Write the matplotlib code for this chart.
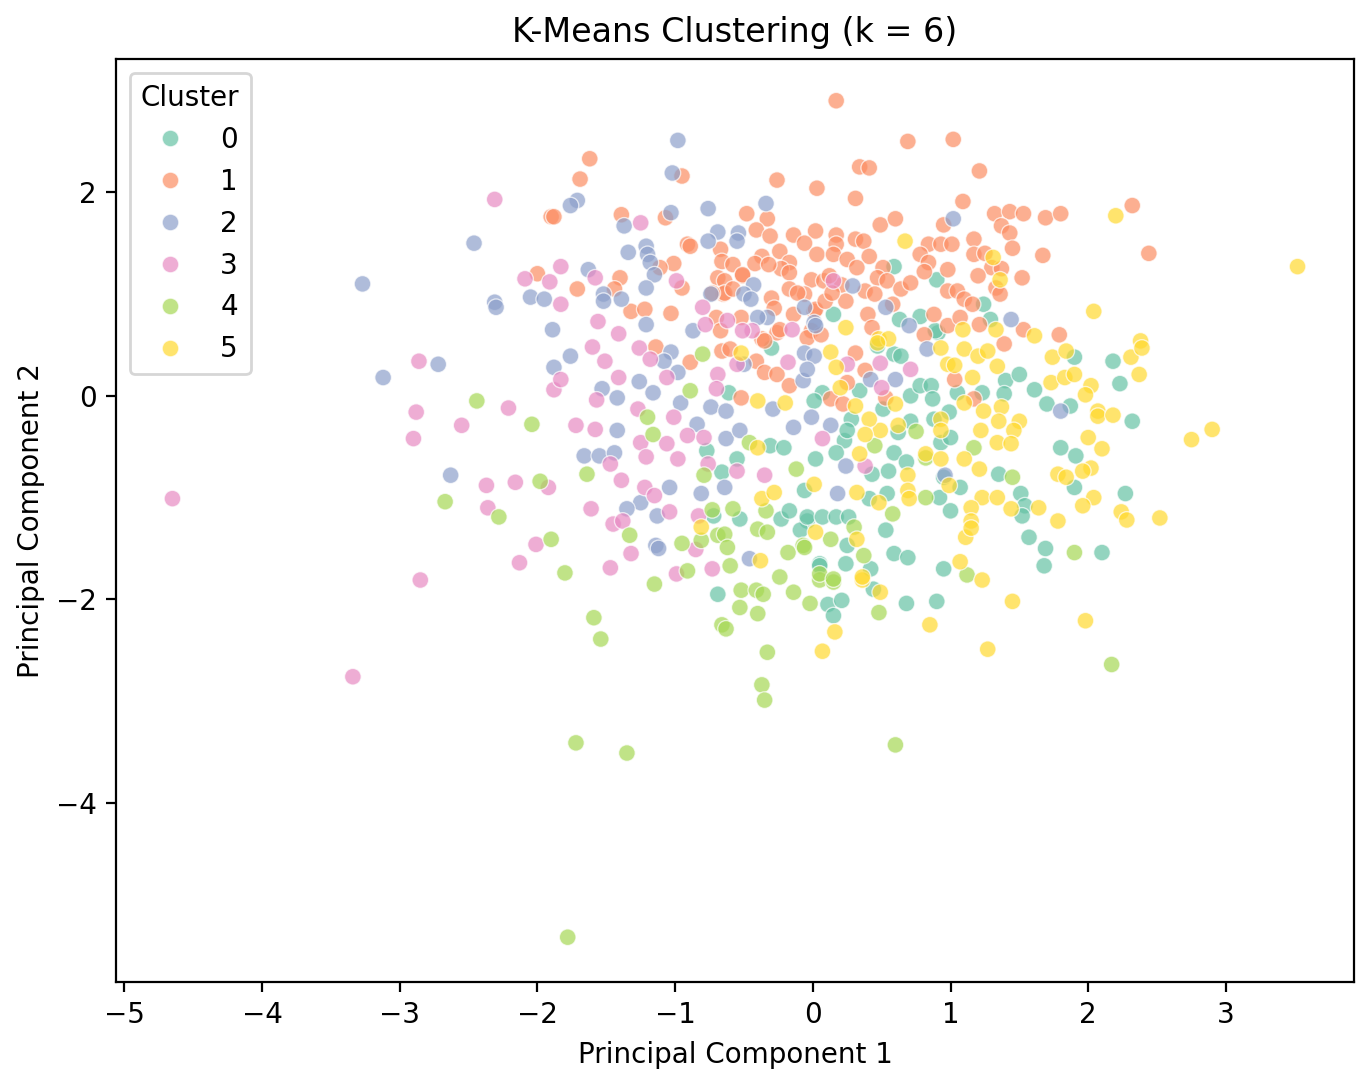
import matplotlib
matplotlib.use("Agg")
import matplotlib.pyplot as plt
import seaborn as sns
import pandas as pd

# ---- data (PC1, PC2) per cluster ----
c0 = [(0.90,1.14),(0.59,1.27),(1.24,0.90),(0.15,0.80),(0.63,0.75),(0.78,0.78),(0.91,0.62),(1.29,0.75),
      (-0.61,0.03),(-0.31,-0.49),(-0.21,-0.51),(-0.77,-0.54),(-0.66,-0.75),(-0.55,-0.62),(-0.06,-0.93),
      (-0.72,-1.18),(-0.53,-1.21),(-0.23,-1.21),(-0.17,-1.13),(-0.04,-1.23),(-0.09,-1.32),(0.05,-1.65),
      (-0.69,-1.95),(0.44,-1.90),(0.11,-2.05),(0.21,-2.01),(0.15,-2.16),(0.68,-2.04),(0.90,-2.02),
      (0.47,0.49),(0.59,0.41),(0.64,0.39),(0.34,0.05),(0.71,0.00),(0.78,0.10),(0.86,0.10),(0.87,-0.03),
      (1.05,0.03),(1.23,0.03),(1.40,0.15),(1.50,0.21),(1.39,0.02),(1.61,0.06),(1.70,-0.08),(1.87,-0.10),
      (1.80,-0.51),(1.91,-0.59),(0.88,-0.23),(0.99,-0.16),(0.93,-0.46),(1.00,-0.41),(0.71,-0.25),
      (0.62,-0.36),(0.51,-0.13),(0.28,-0.23),(0.23,-0.44),(0.17,-0.56),(0.02,-0.62),(0.59,-0.56),
      (0.68,-0.65),(0.43,-0.77),(0.55,-0.74),(0.95,-0.80),(1.07,-0.90),(1.35,-0.77),(1.90,-0.90),
      (0.41,-1.01),(0.54,-0.96),(0.92,-1.00),(1.51,-0.96),(1.54,-1.08),(1.52,-1.18),(1.00,-1.13),
      (-0.04,-1.19),(0.07,-1.19),(0.17,-1.19),(0.26,-1.19),(0.25,-1.47),(0.53,-1.32),(0.59,-1.55),
      (0.69,-1.59),(0.05,-1.67),(0.24,-1.65),(0.42,-1.70),(0.95,-1.70),(1.57,-1.39),(1.69,-1.50),
      (1.68,-1.67),(1.90,0.38),(2.18,0.34),(2.23,0.12),(2.32,-0.25),(2.27,-0.96),(2.10,-1.54),
      (-0.30,0.47),(0.89,0.64),(0.07,0.03),(0.01,-0.05),(0.25,-0.34)]

c1 = [(-1.90,1.76),(-2.00,1.20),
      (-1.62,2.33),(-0.95,2.16),(-1.69,2.13),(-0.26,2.12),(0.03,2.04),(-1.88,1.76),(-1.39,1.78),
      (-1.07,1.75),(-0.48,1.79),(-0.33,1.74),(-0.41,1.63),(-0.31,1.57),(-0.14,1.58),(0.02,1.62),
      (-0.06,1.50),(-0.91,1.49),(-0.89,1.47),(-1.01,1.30),(-1.11,1.26),(-0.67,1.44),(-0.66,1.32),
      (-0.58,1.29),(-0.69,1.16),(-0.64,1.13),(-0.51,1.18),(-0.37,1.37),(-0.42,1.30),(-0.24,1.42),
      (-0.17,1.31),(-0.23,1.25),(-0.01,1.14),(-1.40,1.16),(-1.44,1.05),(-1.71,1.05),(-0.95,1.06),
      (-1.32,0.83),(-1.22,0.85),(-1.03,0.81),(-0.65,1.00),(-0.30,0.96),(-0.28,0.86),(-0.70,0.77),
      (-0.52,0.77),(-0.14,0.80),
      (0.17,2.90),(0.69,2.50),(1.02,2.52),(0.34,2.25),(0.41,2.24),(1.21,2.21),(0.31,1.94),(1.09,1.91),
      (0.95,1.68),(1.32,1.79),(1.43,1.81),(1.53,1.79),(1.69,1.75),(1.80,1.79),(1.37,1.67),(1.43,1.60),
      (1.45,1.45),(1.67,1.38),(0.49,1.68),(0.60,1.74),(0.17,1.58),(0.17,1.49),(0.31,1.54),(0.37,1.52),
      (0.84,1.49),(0.93,1.49),(1.01,1.49),(1.17,1.54),(0.78,1.39),(0.84,1.31),(0.03,1.39),(0.15,1.39),
      (0.25,1.34),(0.41,1.37),(0.32,1.26),(1.17,1.39),(1.25,1.40),(1.30,1.26),(1.37,1.25),(1.52,1.16),
      (1.20,1.18),(1.33,1.06),(1.36,1.00),(0.98,1.24),(0.81,1.22),(0.51,1.26),(0.47,1.16),(0.08,1.13),
      (0.21,1.09),(0.38,1.03),(0.45,1.00),(0.54,1.13),(0.64,1.05),(0.71,1.11),(0.98,1.03),(1.05,1.03),
      (1.10,0.95),(1.16,0.90),(-0.06,1.00),(0.01,0.83),(0.24,0.93),(0.40,0.80),(0.43,0.67),(0.58,0.90),
      (0.88,0.80),(0.98,0.69),(1.07,0.77),(1.21,0.70),(1.53,0.65),(1.79,0.60),(-0.01,0.64),
      (2.32,1.87),(2.44,1.40),
      (-1.14,0.48),(-0.89,0.33),(-0.66,0.44),(-0.60,0.46),(-0.41,0.34),(-0.37,0.56),(-0.26,0.62),
      (-0.04,0.57),(-0.35,0.23),(-0.26,0.21),(-0.17,0.10),(-0.52,-0.02),
      (0.06,0.60),(0.31,0.42),(0.38,0.25),(0.25,0.13),(0.53,-0.02),(1.03,0.16),(1.17,-0.03),(1.39,0.51),
      (-0.51,1.19),(-0.32,1.29),(-0.17,1.21),(-0.64,1.01),(-0.73,1.01),(-0.58,1.05),(-0.17,1.05),
      (-0.11,1.01),(0.12,1.18),(0.02,0.85),(0.09,0.93),(0.14,1.01),(-0.67,0.64),(-0.24,0.65),(-0.35,0.54),
      (0.81,0.60),(0.13,-0.03),(0.22,-0.08)]

c2 = [(-2.46,1.50),(-3.27,1.10),(-2.31,0.92),(-2.30,0.87),(-2.05,0.97),(-1.95,0.95),(-1.89,0.65),
      (-1.88,0.28),(-2.72,0.31),(-3.12,0.18),(-2.63,-0.78),
      (-0.98,2.51),(-1.02,2.19),(-1.71,1.92),(-1.76,1.87),(-0.76,1.84),(-0.34,1.89),(-1.37,1.67),
      (-1.03,1.80),(-0.69,1.61),(-0.76,1.52),(-0.54,1.60),(-0.55,1.52),(-1.34,1.41),(-1.21,1.47),
      (-1.20,1.39),(-1.18,1.31),(-1.15,1.19),(-0.43,1.09),(-1.63,1.24),(-1.52,1.00),(-1.52,0.93),
      (-1.39,0.95),(-1.21,1.06),(-0.74,1.00),(-0.06,0.87),(-1.21,0.70),(-0.33,0.77),
      (1.02,1.74),(0.29,1.08),(0.01,0.72),(0.53,0.87),(0.70,0.69),(1.44,0.75),
      (-1.76,0.39),(-1.26,0.14),(-1.53,0.07),(-1.42,-0.02),(-1.03,0.43),(-1.08,0.34),(-0.50,0.31),
      (-0.06,0.42),(-0.07,0.15),(-0.98,0.23),(-1.16,0.03),(-0.96,-0.07),(-0.29,-0.13),(-0.74,-0.11),
      (-0.63,-0.15),(-0.84,-0.28),(-1.42,-0.34),(-0.63,-0.42),(-0.53,-0.34),(-0.14,-0.31),(-0.01,-0.21),
      (-1.66,-0.59),(-1.55,-0.59),(-1.44,-0.56),(-1.04,-0.90),(-1.25,-1.05),(-1.35,-1.11),(-1.13,-1.18),
      (-0.81,-0.96),(-0.64,-0.90),(-1.14,-1.47),(-1.12,-1.50),(-0.46,-1.60),
      (0.01,0.39),(-0.04,0.26),(0.60,0.16),(0.42,0.16),(1.80,-0.15),(0.13,-0.29),(0.24,-0.69),
      (0.96,-0.78),(0.18,-0.96),
      (-0.50,1.00),(-0.45,0.95),(-0.87,0.64),(-0.40,0.77),(0.02,0.69),(0.83,0.46)]

c3 = [(-2.31,1.93),(-2.09,1.15),(-1.91,1.12),(-1.88,0.06),(-2.86,0.34),(-2.88,-0.16),(-2.21,-0.12),
      (-2.55,-0.29),(-2.90,-0.42),(-2.37,-0.88),(-2.16,-0.85),(-1.92,-0.90),(-4.65,-1.01),(-2.36,-1.10),
      (-2.01,-1.46),(-2.13,-1.64),(-2.85,-1.81),(-3.34,-2.76),
      (-1.25,1.70),(-1.83,1.27),(-1.58,1.16),(-1.83,0.90),(-0.99,1.13),(-0.80,0.87),(-1.56,0.73),
      (0.15,1.13),
      (-1.41,0.61),(-1.60,0.48),(-1.26,0.47),(-1.51,0.34),(-1.83,0.16),(-1.41,0.18),(-1.57,-0.04),
      (-1.18,0.36),(-0.18,0.33),(-0.69,0.21),(-1.06,0.18),(-0.70,0.07),(-1.27,-0.13),(-1.01,-0.21),
      (-1.72,-0.29),(-1.58,-0.33),(-0.91,-0.39),(-0.79,-0.41),(-1.25,-0.46),(-1.06,-0.47),(-1.21,-0.60),
      (-0.98,-0.62),(-1.47,-0.67),(-1.39,-0.83),(-0.76,-0.67),(-0.55,-0.74),(-0.35,-0.78),(-1.22,-0.90),
      (-1.15,-0.98),(-1.61,-1.11),(-1.04,-1.14),(-1.45,-1.26),(-1.38,-1.23),(-0.83,-1.18),(-0.85,-1.51),
      (-1.32,-1.55),(-1.47,-1.69),(-0.99,-1.75),(-0.73,-1.70),
      (0.25,0.31),(0.49,0.32),(0.71,0.26),(0.50,0.08),(0.07,-0.42),(0.38,-0.69),
      (-0.78,0.70),(-0.62,0.74),(-0.44,0.64),(-0.51,0.64),(-0.15,0.65),(-0.55,0.31)]

c4 = [(-2.44,-0.05),(-2.04,-0.28),(-1.98,-0.84),(-2.67,-1.04),(-2.28,-1.19),(-1.90,-1.41),
      (-0.80,0.41),(-0.89,0.05),(-1.20,-0.21),(-1.16,-0.38),(-0.46,-0.46),(-1.64,-0.77),(-0.79,-0.78),
      (-0.12,-0.72),(-0.58,-1.11),(-0.73,-1.12),(-0.34,-1.13),(-1.33,-1.37),(-0.95,-1.45),(-0.81,-1.42),
      (-0.69,-1.37),(-0.64,-1.36),(-0.62,-1.49),(-0.40,-1.31),(-0.33,-1.34),(-0.18,-1.54),(-0.07,-1.47),
      (-1.80,-1.74),(-0.91,-1.72),(-0.60,-1.67),(-0.24,-1.78),(-1.15,-1.85),
      (-0.52,-1.91),(-0.41,-1.91),(-0.36,-1.95),(-0.14,-1.93),(0.05,-1.81),(0.15,-1.83),(-1.59,-2.18),
      (-1.54,-2.39),(-0.53,-2.08),(-0.40,-2.14),(-0.66,-2.25),(-0.63,-2.29),(-0.02,-2.04),(0.48,-2.13),
      (-0.33,-2.52),(-0.37,-2.84),(-0.35,-2.99),(-1.72,-3.41),(-1.35,-3.51),(0.60,-3.43),(-1.78,-5.32),
      (0.75,-0.35),(0.45,-0.49),(0.82,-0.61),(1.17,-0.51),(1.45,-0.80),(0.82,-1.00),(0.58,-1.16),
      (-0.06,-1.49),(0.13,-1.41),(0.30,-1.29),(0.37,-1.57),(0.05,-1.75),(0.15,-1.80),(1.12,-1.76),
      (1.90,-1.54),(2.17,-2.64)]

c5 = [(0.67,1.52),(1.31,1.36),(1.36,1.14),(0.24,0.67),(1.09,0.65),(1.33,0.65),(1.61,0.59),(0.48,0.56),
      (0.55,0.56),(2.20,1.77),(3.52,1.27),(2.04,0.83),(2.38,0.54),
      (-0.52,0.42),(-0.40,-0.05),(-0.20,-0.07),(-0.40,-0.51),(0.01,-0.87),(-0.37,-1.01),(-0.28,-0.95),
      (-0.81,-1.29),(0.02,-1.34),(-0.38,-1.62),
      (0.36,-1.81),(0.49,-1.93),(0.16,-2.32),(0.85,-2.25),(0.07,-2.51),
      (0.13,0.43),(0.17,0.28),(0.20,0.08),(0.98,0.31),(1.03,0.30),(1.16,0.18),(1.24,-0.15),(1.10,-0.07),
      (0.93,0.47),(1.10,0.46),(1.20,0.39),(1.27,0.44),(1.34,0.29),(1.74,0.38),(1.84,0.44),(1.73,0.13),
      (1.83,0.18),(1.90,0.21),(1.37,-0.11),(1.35,-0.25),(1.50,-0.25),(1.46,-0.34),(1.34,-0.46),
      (1.44,-0.47),(1.22,-0.34),(0.93,-0.23),(0.93,-0.34),(0.62,-0.29),(0.49,-0.34),(0.41,-0.23),
      (0.34,-0.57),(0.82,-0.57),(0.93,-0.62),(1.10,-0.62),(1.21,-0.72),(0.69,-0.78),(0.99,-0.88),
      (1.78,-0.77),(1.84,-0.80),(0.32,-0.95),(0.48,-1.05),(0.69,-0.93),(0.70,-1.01),(1.23,-1.00),
      (1.15,-1.10),(1.34,-1.00),(1.44,-1.11),(1.64,-1.10),(1.78,-1.23),(1.15,-1.23),(1.11,-1.39),
      (1.15,-1.30),(0.32,-1.41),(0.36,-1.78),(1.07,-1.63),(1.23,-1.81),
      (2.31,0.38),(2.39,0.47),(2.37,0.21),(2.02,0.10),(1.98,0.01),(2.07,-0.15),(2.07,-0.20),(2.18,-0.19),
      (2.90,-0.33),(2.75,-0.43),(2.00,-0.41),(2.10,-0.52),(2.02,-0.71),(1.96,-0.74),(2.04,-1.00),
      (1.96,-1.08),(2.24,-1.14),(2.28,-1.22),(2.52,-1.20),
      (1.45,-2.02),(1.98,-2.21),(1.27,-2.49),
      (0.47,0.52),(0.31,-0.10),(0.60,-0.08),(0.38,-0.38)]

clusters = [c0, c1, c2, c3, c4, c5]
cluster_labels = [0, 1, 2, 3, 4, 5]

rows = []
for lab, pts in zip(cluster_labels, clusters):
    for (px, py) in pts:
        rows.append({"PC1": px, "PC2": py, "Cluster": lab})
df = pd.DataFrame(rows)

fig = plt.figure(figsize=(6.78, 5.42), dpi=200)
ax = fig.add_axes([116/1356, 102/1084, 1238/1356, 923/1084])
sns.scatterplot(data=df, x="PC1", y="PC2", hue="Cluster", palette="Set2",
                alpha=0.7, s=36, ax=ax, legend="full")
ax.set_title("K-Means Clustering (k = 6)")
ax.set_xlabel("Principal Component 1")
ax.set_ylabel("Principal Component 2")
ax.set_xlim(-5.06, 3.93)
ax.set_ylim(-5.76, 3.31)
ax.set_xticks([-5, -4, -3, -2, -1, 0, 1, 2, 3])
ax.set_yticks([-4, -2, 0, 2])
ax.legend(title="Cluster", loc="upper left")
fig.savefig("out.png", dpi=200)
